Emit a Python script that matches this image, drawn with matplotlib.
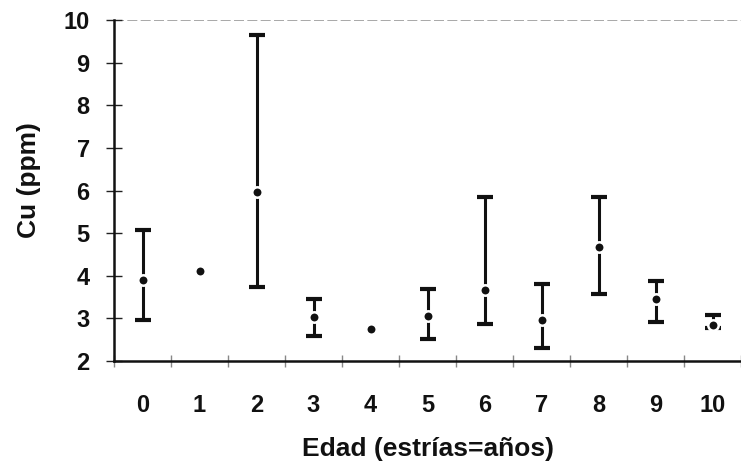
import numpy as np
import matplotlib
matplotlib.use("Agg")
import matplotlib.pyplot as plt

ages = ["0", "1", "2", "3", "4", "5", "6", "7", "8", "9", "10"]
mean_cu = [3.91, 4.11, 5.97, 3.03, 2.75, 3.06, 3.67, 2.96, 4.68, 3.45, 2.84]
upper_cu = [5.07, np.nan, 9.65, 3.46, np.nan, 3.69, 5.85, 3.81, 5.85, 3.88, 3.08]
lower_cu = [2.97, np.nan, 3.74, 2.59, np.nan, 2.52, 2.87, 2.30, 3.57, 2.92, 2.78]
y_ticks = [2, 3, 4, 5, 6, 7, 8, 9, 10]

plt.rcParams['font.family'] = ['Liberation Sans', 'DejaVu Sans']

fig = plt.figure(figsize=(7.41, 4.68), dpi=100)
ax = fig.add_axes([114/741, 1-361/468, 1-114/741, (361-20)/468])

x = np.arange(len(ages))
mean = np.array(mean_cu)
up = np.array(upper_cu)
lo = np.array(lower_cu)
ok = ~np.isnan(up)

ax.errorbar(x[ok], mean[ok], yerr=[mean[ok]-lo[ok], up[ok]-mean[ok]], fmt='none',
            ecolor='#111111', elinewidth=2.2, capsize=5.5, capthick=3.0, zorder=2)
ax.plot(x, mean, 'o', color='#111111', ms=7.5, mec='white', mew=1.8, zorder=3)

ax.set_xlim(-0.5, 10.5)
ax.set_ylim(2, 10)
ax.set_yticks(y_ticks)
ax.set_yticklabels([str(v) for v in y_ticks], fontsize=17, fontweight='bold', color='#111111')
ax.tick_params(axis='y', direction='inout', length=11, width=1.0, pad=12, color='#222222')

ax.set_xticks(np.arange(-0.5, 10.6, 1))
ax.set_xticklabels([])
ax.tick_params(axis='x', which='major', direction='inout', length=8, width=1.0, color='#888888')
ax.set_xticks(x, minor=True)
ax.set_xticklabels(ages, minor=True, fontsize=17, fontweight='bold', color='#111111')
ax.tick_params(axis='x', which='minor', length=0, pad=24)

ax.axhline(10, color='#999999', lw=1.2, ls=(0, (6, 2)), zorder=1)
for s in ['top', 'right']:
    ax.spines[s].set_visible(False)
ax.spines['left'].set_linewidth(1.8)
ax.spines['bottom'].set_linewidth(1.8)
ax.spines['left'].set_color('#111111')
ax.spines['bottom'].set_color('#111111')

ax.set_xlabel("Edad (estrías=años)", fontsize=19, fontweight='bold', labelpad=14, color='#111111')
ax.set_ylabel("Cu (ppm)", fontsize=19, fontweight='bold', color='#111111')
ax.yaxis.set_label_coords(-0.116, 0.53)

fig.savefig("out.png", dpi=100)
